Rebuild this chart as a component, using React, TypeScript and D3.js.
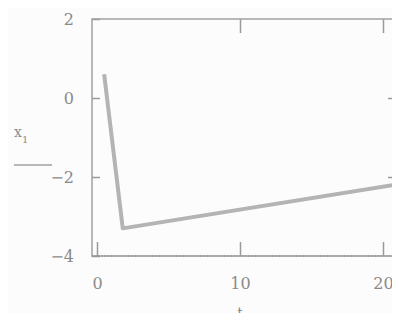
import React, { useRef, useEffect } from 'react';
import * as d3 from 'd3';

// values
const tValues = [0.5, 1.8, 20.8];
const xValues = [0.6, -3.3, -2.2];
const xTicks = [0, 10, 20];
const yTicks = [2, 0, -2, -4];

function Chart() {
  const ref = useRef<SVGSVGElement>(null);
  const outerWidth = 400, outerHeight = 321;
  const margin = { top: 19, right: 2, bottom: 65, left: 92 };
  const width = outerWidth - margin.left - margin.right,
    height = outerHeight - margin.top - margin.bottom;

  useEffect(() => {
    const svg = d3.select(ref.current);
    svg.selectAll('*').remove();
    svg.append('rect').attr('width', outerWidth).attr('height', outerHeight).attr('fill', '#fcfcfc');
    const plotArea = svg.append('g').attr('transform', `translate(${margin.left},${margin.top})`);

    const xScale = d3.scaleLinear().domain([-0.35, 21.05]).range([0, width]);
    const yScale = d3.scaleLinear().domain([-4, 2]).range([height, 0]);

    const data = tValues.map((t, i) => ({ t, x: xValues[i] }));

    plotArea.append('clipPath').attr('id', 'clip')
      .append('rect').attr('width', width).attr('height', height);

    const line = d3.line<{ t: number; x: number }>()
      .x((d) => xScale(d.t))
      .y((d) => yScale(d.x));

    plotArea.append('path')
      .datum(data)
      .attr('d', line)
      .attr('clip-path', 'url(#clip)')
      .style('fill', 'none')
      .style('stroke', '#b4b4b4')
      .style('stroke-width', 4)
      .style('stroke-linejoin', 'round');

    const style = (g: any) => {
      g.select('.domain').remove();
      g.selectAll('line').attr('stroke', '#9a9a9a').attr('stroke-width', 1.5);
      g.selectAll('text')
        .attr('fill', '#8a8a8a')
        .style('font-family', '"DejaVu Serif", serif')
        .style('font-size', '16px')
        .style('font-weight', 300);
    };

    plotArea.append('g')
      .attr('transform', `translate(0,${height})`)
      .call(d3.axisBottom(xScale).tickValues(xTicks).tickSizeInner(-14).tickSizeOuter(0).tickPadding(22))
      .call(style);
    plotArea.append('g')
      .call(d3.axisTop(xScale).tickValues(xTicks.slice(1)).tickSizeInner(-14).tickSizeOuter(0).tickFormat(() => ''))
      .call(style);
    plotArea.append('g')
      .call(d3.axisLeft(yScale).tickValues(yTicks).tickSizeInner(-8).tickSizeOuter(0).tickPadding(18)
        .tickFormat((d) => d3.format('')(d as number).replace('-', '\u2212')))
      .call(style);
    plotArea.append('g')
      .attr('transform', `translate(${width},0)`)
      .call(d3.axisRight(yScale).tickValues([0, -2]).tickSizeInner(-10).tickSizeOuter(0).tickFormat(() => ''))
      .call(style);

    // frame
    plotArea.append('rect')
      .attr('width', width).attr('height', height)
      .attr('fill', 'none').attr('stroke', '#a0a0a0').attr('stroke-width', 1.5);
    plotArea.append('line')
      .attr('x1', 0).attr('x2', width).attr('y1', height).attr('y2', height)
      .attr('stroke', '#8c8c8c').attr('stroke-width', 1).attr('stroke-dasharray', '2,1');

    // axis labels
    const lab = svg.append('text').attr('x', 14).attr('y', 137)
      .attr('fill', '#8a8a8a').style('font-family', '"DejaVu Serif", serif').style('font-size', '14px');
    lab.append('tspan').text('x');
    lab.append('tspan').attr('dy', 6).attr('font-size', '10px').text('1');
    svg.append('line').attr('x1', 14).attr('x2', 52).attr('y1', 165).attr('y2', 165)
      .attr('stroke', '#a0a0a0').attr('stroke-width', 1.5);
    svg.append('text').attr('x', margin.left + xScale(10)).attr('y', 318)
      .attr('text-anchor', 'middle')
      .attr('fill', '#8a8a8a').style('font-family', '"DejaVu Serif", serif').style('font-size', '14px')
      .text('t');
  }, []);

  return (
    <svg ref={ref} width={outerWidth} height={outerHeight} style={{ display: 'block' }}></svg>
  );
}

export default function App() {
  return (
    <div style={{ margin: -8 }}>
      <Chart />
    </div>
  );
}
